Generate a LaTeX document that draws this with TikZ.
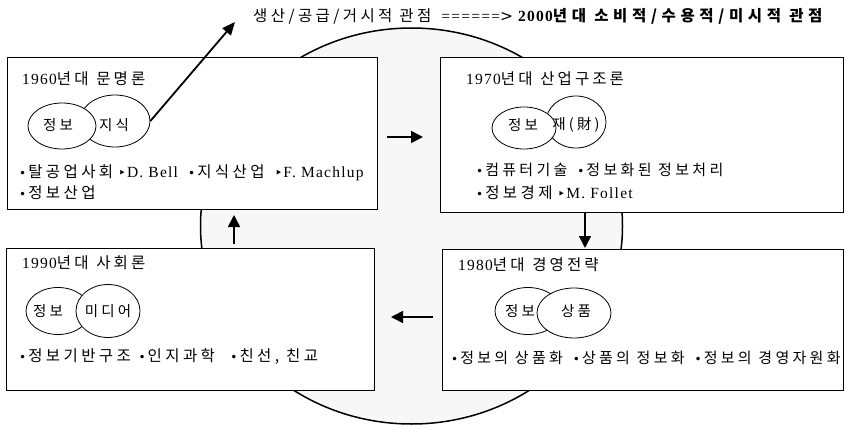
\documentclass[tikz,border=0pt]{standalone}
\usepackage{fontspec}
\setmainfont{Liberation Serif}[LetterSpace=8]
\newfontfamily\K{Noto Sans CJK KR}[LetterSpace=22]
\newfontfamily\KT{Noto Sans CJK KR}[LetterSpace=20]
\newfontfamily\KB{Noto Sans CJK KR}[LetterSpace=30]
\newfontfamily\symf{DejaVu Sans}
\usetikzlibrary{arrows.meta,shapes.geometric}
\newcommand\blt{{\symf\fontsize{12}{12}\selectfont •}\kern2pt}
\newcommand\tri{{\symf\fontsize{13}{13}\selectfont ‣}\kern1pt}
\tikzset{
  txt/.style={font=\fontsize{15.5}{17}\selectfont, inner sep=0pt, anchor=west},
  ttl/.style={font=\fontsize{15.5}{17}\selectfont, inner sep=0pt, anchor=west},
  box/.style={draw=black, line width=0.8pt, fill=white, anchor=north west, inner sep=0pt},
  vn/.style={ellipse, draw=black, line width=0.8pt, fill=white, inner sep=0pt},
  lbl/.style={font=\fontsize{14.5}{16}\selectfont\K, inner sep=0pt},
  arr/.style={line width=1.6pt, -{Triangle[length=12pt,width=12pt]}},
}
\begin{document}
\begin{tikzpicture}[x=1pt,y=-1pt]
\useasboundingbox (0,0) rectangle (846,425);
% background ellipse
\draw[line width=1.5pt, fill=black!3] (411.5,226) ellipse [x radius=211, y radius=198];
% boxes
\node[box, minimum width=370pt, minimum height=152pt] (b1) at (7,57) {};
\node[box, minimum width=403pt, minimum height=155pt] (b2) at (440,57) {};
\node[box, minimum width=401pt, minimum height=141pt] (b3) at (442,249) {};
\node[box, minimum width=368pt, minimum height=142pt] (b4) at (6,248) {};
% top text
\node[txt] (top) at (253,16) {{\K 생산/공급/거시적 관점}\ \ ======{\symf >}\ {\bfseries 2000{\KB 년대 소비적/수용적/미시적 관점}}};
% box 1
\node[ttl] (t1) at (22,79) {1960{\KT 년대\enspace 문명론}};
\node[vn, minimum width=70pt, minimum height=52pt] (v1b) at (115,121) {};
\node[vn, minimum width=68pt, minimum height=46pt] (v1a) at (62,126) {};
\node[lbl] (l1a) at (58,125) {정보};
\node[lbl] (l1b) at (114,125) {지식};
\node[txt] (p1a) at (19,173) {\blt{\K 탈공업사회}\ \tri D. Bell\ \ \blt{\K 지식산업}\ \ \tri F.\ Machlup};
\node[txt] (p1b) at (19,193) {\blt{\K 정보산업}};
% box 2
\node[ttl] (t2) at (466,79) {1970{\KT 년대\enspace 산업구조론}};
\node[vn, minimum width=60pt, minimum height=52pt] (v2b) at (576,122) {};
\node[vn, minimum width=64pt, minimum height=42pt] (v2a) at (524,128) {};
\node[lbl] (l2a) at (523,125) {정보};
\node[lbl] (l2b) at (576,125) {재(財)};
\node[txt, font=\fontsize{15}{17}\selectfont] (p2a) at (476,170) {\blt{\K 컴퓨터기술}\ \ \blt{\K 정보화된 정보처리}};
\node[txt] (p2b) at (476,193) {\blt{\K 정보경제} \tri M.\ Follet};
% box 3
\node[ttl] (t3) at (458,265) {1980{\KT 년대\enspace 경영전략}};
\node[vn, minimum width=66pt, minimum height=47pt] (v3a) at (528,311) {};
\node[vn, minimum width=74pt, minimum height=50pt] (v3b) at (574,313) {};
\node[lbl] (l3a) at (520,311) {정보};
\node[lbl] (l3b) at (576,311) {상품};
\node[txt, font=\fontsize{15}{17}\selectfont] (p3a) at (451,358) {\blt{\K 정보의 상품화}\hspace{10pt}\blt{\K 상품의 정보화}\hspace{10pt}\blt{\K 정보의 경영자원화}};
% box 4
\node[ttl] (t4) at (22,263) {1990{\KT 년대\enspace 사회론}};
\node[vn, minimum width=64pt, minimum height=47pt] (v4a) at (58,311) {};
\node[vn, minimum width=64pt, minimum height=53pt] (v4b) at (108,311) {};
\node[lbl] (l4a) at (48,311) {정보};
\node[lbl] (l4b) at (108,311) {미디어};
\node[txt] (p4a) at (19,357) {\blt{\K 정보기반구조}\enspace\blt{\K 인지과학}\quad\blt{\K 친선, 친교}};
% arrows
\coordinate (a1s) at (387,137); \coordinate (a1e) at (423,137);
\coordinate (a2s) at (585,213); \coordinate (a2e) at (585,248);
\coordinate (a3s) at (433,317); \coordinate (a3e) at (391,317);
\coordinate (a4s) at (234,244); \coordinate (a4e) at (234,215);
\coordinate (dtip) at (235,22);
\draw[arr] (a1s) -- (a1e);
\draw[arr] (a2s) -- (a2e);
\draw[arr] (a3s) -- (a3e);
\draw[arr] (a4s) -- (a4e);
\draw[line width=1.8pt, -{Triangle[length=13pt,width=11pt]}] (v1b.east) -- (dtip);
\end{tikzpicture}
\end{document}
